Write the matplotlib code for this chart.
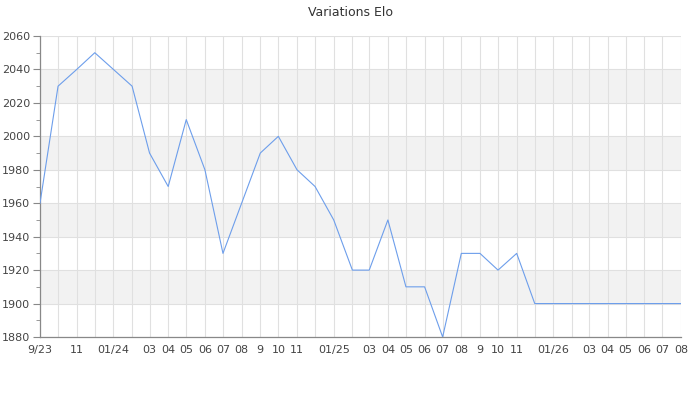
import matplotlib
matplotlib.use("Agg")
import matplotlib.pyplot as plt
import matplotlib.dates as mdates
import numpy as np
import datetime as dt

months = ["2023-09", "2023-10", "2023-11", "2023-12",
          "2024-01", "2024-02", "2024-03", "2024-04", "2024-05", "2024-06",
          "2024-07", "2024-08", "2024-09", "2024-10", "2024-11", "2024-12",
          "2025-01", "2025-02", "2025-03", "2025-04", "2025-05", "2025-06",
          "2025-07", "2025-08", "2025-09", "2025-10", "2025-11", "2025-12",
          "2026-01", "2026-02", "2026-03", "2026-04", "2026-05", "2026-06",
          "2026-07", "2026-08"]
elo = [1960, 2030, 2040, 2050,
       2040, 2030, 1990, 1970, 2010, 1980,
       1930, 1960, 1990, 2000, 1980, 1970,
       1950, 1920, 1920, 1950, 1910, 1910,
       1880, 1930, 1930, 1920, 1930, 1900,
       1900, 1900, 1900, 1900, 1900, 1900,
       1900, 1900]
tick_labels = ["9/23", "", "11", "",
               "01/24", "", "03", "04", "05", "06",
               "07", "08", "9", "10", "11", "",
               "01/25", "", "03", "04", "05", "06",
               "07", "08", "9", "10", "11", "",
               "01/26", "", "03", "04", "05", "06",
               "07", "08"]
y_ticks = [1880, 1900, 1920, 1940, 1960, 1980, 2000, 2020, 2040, 2060]

dates = [dt.datetime.strptime(m + "-01", "%Y-%m-%d") for m in months]
xd = mdates.date2num(dates)

fig = plt.figure(figsize=(7, 4), dpi=100)
ax = fig.add_axes([40/700, 63/400, 641/700, 301/400])

# alternating bands
for i in range(len(y_ticks) - 1):
    if i % 2 == 1:
        ax.axhspan(y_ticks[i], y_ticks[i+1], color="#f2f2f2", zorder=0, lw=0)

ax.plot(xd, elo, color="#6d9eeb", lw=0.8, zorder=3)

ax.set_xlim(xd[0], xd[-1])
ax.set_ylim(y_ticks[0], y_ticks[-1])
ax.set_yticks(y_ticks)
ax.set_yticks(np.arange(1890, 2060, 20), minor=True)
ax.set_xticks(xd)
ax.set_xticklabels(tick_labels)

ax.grid(True, which="major", color="#e0e0e0", lw=0.8, zorder=1)
ax.set_axisbelow(True)

for s in ["top", "right"]:
    ax.spines[s].set_visible(False)
for s in ["left", "bottom"]:
    ax.spines[s].set_color("#888888")
    ax.spines[s].set_linewidth(0.9)

ax.tick_params(axis="y", which="major", length=5, color="#888888",
               labelsize=8, labelcolor="#444444", pad=2)
ax.tick_params(axis="y", which="minor", length=3, color="#888888")
ax.tick_params(axis="x", which="major", length=0, labelsize=8,
               labelcolor="#444444", pad=6)

fig.text(0.5, 1 - 12/400, "Variations Elo", ha="center", va="center",
         fontsize=9, color="#333333")

fig.savefig("out.png", dpi=100)
